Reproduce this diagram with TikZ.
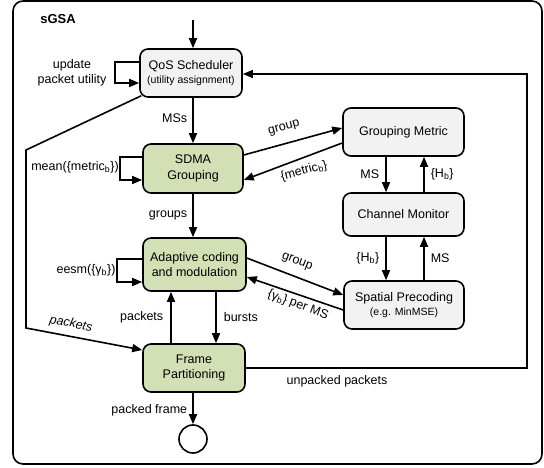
\documentclass[tikz,border=0pt]{standalone}
\usepackage{fontspec}
\setmainfont{Liberation Sans}
\usetikzlibrary{arrows.meta}
\definecolor{boxgreen}{RGB}{211,223,180}
\definecolor{boxgray}{RGB}{242,242,242}
\tikzset{
  ln/.style={line width=1.6pt},
  arr/.style={ln,-{Triangle[length=10pt,width=8pt]}},
  blk/.style={draw,line width=1.6pt,rounded corners=8pt,align=center,inner sep=0pt,
     font=\fontsize{12.5}{15.5}\selectfont},
  gbox/.style={blk,fill=boxgreen},
  wbox/.style={blk,fill=boxgray},
  lbl/.style={font=\fontsize{12.5}{15}\selectfont,inner sep=1pt},
  ilbl/.style={font=\fontsize{12.5}{15}\selectfont\itshape,inner sep=1pt},
}
\newcommand{\smalltxt}{\fontsize{10.5}{12}\selectfont}
\begin{document}
\begin{tikzpicture}[x=1pt,y=-1pt]
\useasboundingbox (0,0) rectangle (544,468);
\draw[ln,rounded corners=10pt] (13,1) rectangle (542,464);
\node[font=\fontsize{13}{15}\selectfont\bfseries] (title) at (58,19) {sGSA};

\node[wbox,minimum width=102pt,minimum height=48pt] (qos) at (191,73) {QoS Scheduler\\[-2pt]{\smalltxt (utility assignment)}};
\node[gbox,minimum width=100pt,minimum height=49pt] (sdma) at (193,168.5) {SDMA\\Grouping};
\node[gbox,minimum width=103pt,minimum height=53pt] (acm) at (194.5,264.5) {Adaptive coding\\and modulation};
\node[gbox,minimum width=102pt,minimum height=48pt] (fp) at (194,368) {Frame\\Partitioning};
\node[wbox,minimum width=121pt,minimum height=48pt] (gm) at (403.5,132) {Grouping Metric};
\node[wbox,minimum width=121pt,minimum height=43pt] (cm) at (403.5,214.5) {Channel Monitor};
\node[wbox,minimum width=120pt,minimum height=48pt] (sp) at (404,305) {Spatial Precoding\\[-2pt]{\smalltxt (e.g. MinMSE)}};
\node[draw,circle,line width=1.6pt,minimum size=28pt,inner sep=0pt] (end) at (193,439) {};

\coordinate (in) at (193,20);
\coordinate (fb) at (527,74);
\coordinate (lt) at (26,150);
\coordinate (lb) at (26,328);

% main vertical flow
\draw[arr] (in) -- ([xshift=2pt]qos.north);
\draw[arr] ([xshift=2pt]qos.south) -- node[lbl,left=4pt,pos=0.45] {MSs} (sdma.north);
\draw[arr] (sdma.south) -- node[lbl,left=4pt,pos=0.5] {groups} ([xshift=-1.5pt]acm.north);
\draw[arr] ([xshift=-23pt]fp.north) -- node[lbl,left=6pt] {packets} ([xshift=-23.5pt]acm.south);
\draw[arr] ([xshift=21.5pt]acm.south) -- node[lbl,right=6pt] {bursts} ([xshift=22pt]fp.north);
\draw[arr] ([xshift=-1pt]fp.south) -- node[lbl,left=4pt,pos=0.55] {packed frame} (end.north);

% feedback
\draw[arr] (fp.east) -| (fb) -- ([yshift=-1pt]qos.east);
\node[lbl] (unp) at (337,381) {unpacked packets};
\draw[arr] ([xshift=2pt,yshift=2pt]qos.south west) -- (lt) -- (lb) -- ([yshift=18pt]fp.west);
\node[ilbl,rotate=-11] (pk) at (71,324) {packets};

% self loops
\draw[arr] ([yshift=11pt]qos.west) -- ++(-24,0) |- ([yshift=-10pt]qos.west);
\node[lbl,align=center,font=\fontsize{12.5}{15}\selectfont] (upd) at (72,73) {update\\packet utility};
\draw[arr] ([yshift=11.5pt]sdma.west) -- ++(-22,0) |- ([yshift=-11.5pt]sdma.west);
\node[lbl] (mean) at (75,167) {mean(\{metric\textsubscript{b}\})};
\draw[arr] ([yshift=5.5pt]acm.west) -- ++(-25,0) |- ([yshift=-17.5pt]acm.west);
\node[lbl] (eesm) at (86,270) {eesm(\{γ\textsubscript{b}\})};

% SDMA <-> Grouping Metric
\draw[arr] ([yshift=13.5pt]sdma.east) -- ([yshift=4pt]gm.west);
\draw[arr] ([yshift=-11pt]gm.west) -- ([yshift=-11.5pt]sdma.east);
\node[lbl,rotate=15] (g1) at (284,128) {group};
\node[lbl,rotate=15] (m1) at (304,171) {\{metric\textsubscript{b}\}};

% ACM <-> Spatial Precoding
\draw[arr] ([yshift=6.5pt]acm.east) -- ([yshift=10pt]sp.west);
\draw[arr] ([yshift=-5pt]sp.west) -- ([yshift=-12.5pt]acm.east);
\node[lbl,rotate=-21] (g2) at (297,262) {group};
\node[lbl,rotate=-21] (m2) at (298,305) {\{γ\textsubscript{b}\} per MS};

% GM <-> CM <-> SP
\draw[arr] ([xshift=-17.5pt]gm.south) -- node[lbl,left=5pt] {MS} ([xshift=-17.5pt]cm.north);
\draw[arr] ([xshift=20.5pt]cm.north) -- node[lbl,right=5pt] {\{H\textsubscript{b}\}} ([xshift=20.5pt]gm.south);
\draw[arr] ([xshift=-17.5pt]cm.south) -- node[lbl,left=5pt] {\{H\textsubscript{b}\}} ([xshift=-18pt]sp.north);
\draw[arr] ([xshift=20pt]sp.north) -- node[lbl,right=5pt] {MS} ([xshift=20.5pt]cm.south);
\end{tikzpicture}
\end{document}
